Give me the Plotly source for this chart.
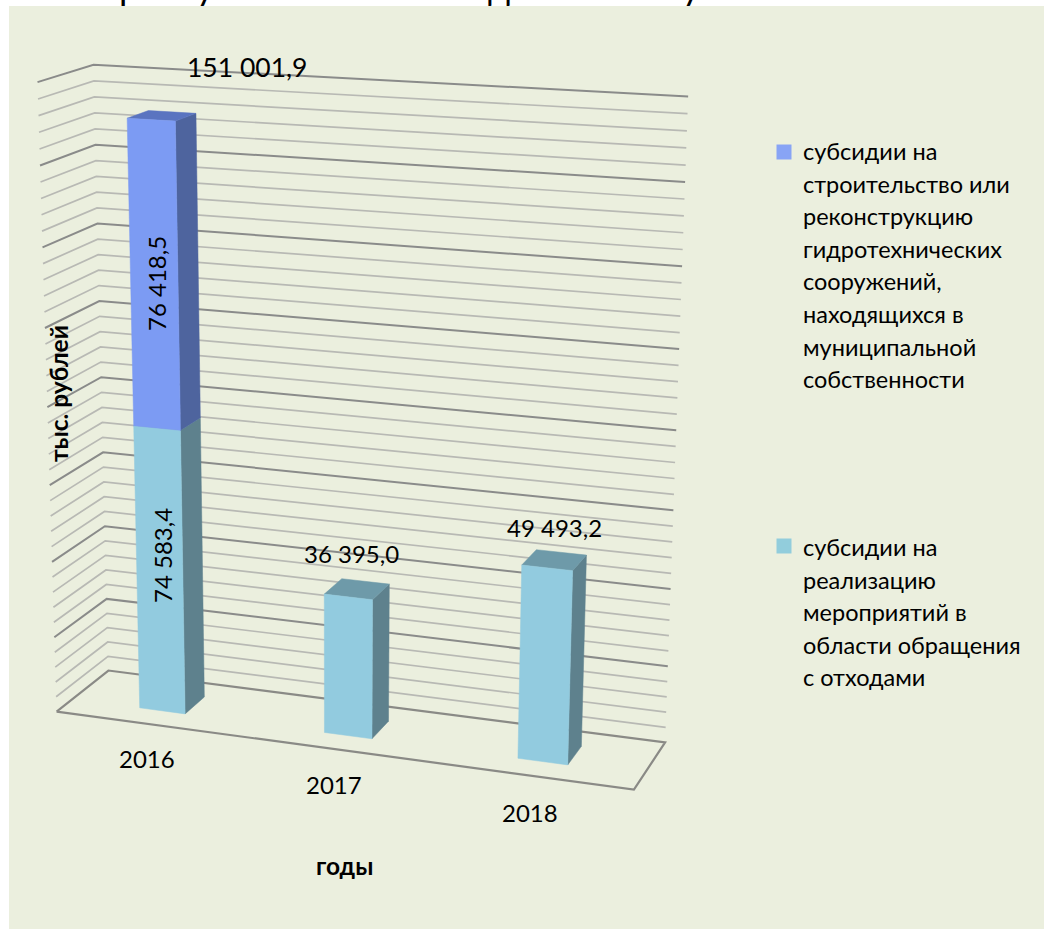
import numpy as np
import plotly.graph_objects as go

# ---------- data ----------
years = ["2016", "2017", "2018"]
waste_values = [74583.4, 36395.0, 49493.2]
hydro_values = [76418.5, 0.0, 0.0]
waste_labels = ["74 583,4", "36 395,0", "49 493,2"]
hydro_labels = ["76 418,5"]
total_label = "151 001,9"
axis_max = 160000
major_step = 20000
minor_step = 4000
axis_title_x = "годы"
axis_title_y = "тыс. рублей"
legend_hydro = ["субсидии на", "строительство или", "реконструкцию", "гидротехнических",
                "сооружений,", "находящихся в", "муниципальной", "собственности"]
legend_waste = ["субсидии на", "реализацию", "мероприятий в", "области обращения", "с отходами"]
clipped_heading = ["р", "у", "д", "у"]

W, H = 1044, 929
FONT = "Lato, Carlito, Calibri, sans-serif"
BG = "#EBEFDE"

# ---------- perspective camera: calibrated from the box corners (cat, value share, depth) -> pixel ----------
world = np.array([[0,0,0],[0,0,1],[3,0,1],[3,0,0],[0,1,1],[3,1,1],[0,1,0],[3,1,0]], float)
pixel = np.array([[56,711],[109,671],[666,743],[633,789],[94,65],[686,95],[37,82],[658,118]], float)
rows = []
for (X, Y, Z), (u, v) in zip(world, pixel):
    rows.append([X, Y, Z, 1, 0, 0, 0, 0, -u*X, -u*Y, -u*Z, -u])
    rows.append([0, 0, 0, 0, X, Y, Z, 1, -v*X, -v*Y, -v*Z, -v])
P = np.linalg.svd(np.array(rows))[2][-1].reshape(3, 4)

def proj(cat, val, depth):
    p = P @ np.array([cat, val / axis_max, depth, 1.0])
    return p[0] / p[2], p[1] / p[2]

def polyline(points):
    pts = [proj(*p) for p in points]
    return [q[0] for q in pts], [q[1] for q in pts]

fig = go.Figure()

def add_lines(segments, color, width):
    xs, ys = [], []
    for seg in segments:
        a, b = polyline(seg)
        xs += a + [None]
        ys += b + [None]
    fig.add_trace(go.Scatter(x=xs, y=ys, mode="lines", line=dict(color=color, width=width),
                             showlegend=False, hoverinfo="skip"))

n_cat = len(years)
levels = np.arange(0, axis_max + minor_step, minor_step)
minor = [[(0, v, 0), (0, v, 1), (n_cat, v, 1)] for v in levels if v % major_step != 0]
major = [[(0, v, 0), (0, v, 1), (n_cat, v, 1)] for v in levels if v % major_step == 0 and v > 0]
add_lines(minor, "#B8B9B4", 1.7)
add_lines(major, "#8A8B8A", 2)
add_lines([[(0, 0, 0), (0, 0, 1), (n_cat, 0, 1), (n_cat, 0, 0), (0, 0, 0)]], "#8A8A86", 2.2)

def add_face(points, color):
    x, y = polyline(points + points[:1])
    fig.add_trace(go.Scatter(x=x, y=y, mode="lines", fill="toself", fillcolor=color,
                             line=dict(color=color, width=0.5), showlegend=False, hoverinfo="skip"))

def add_box(cat, lo, hi, front, side, top):
    half = 0.125
    l, r = cat + 0.5 - half, cat + 0.5 + half
    zf, zb = 0.3, 0.7
    add_face([(r, lo, zf), (r, lo, zb), (r, hi, zb), (r, hi, zf)], side)
    add_face([(l, hi, zf), (r, hi, zf), (r, hi, zb), (l, hi, zb)], top)
    add_face([(l, lo, zf), (r, lo, zf), (r, hi, zf), (l, hi, zf)], front)

for i in range(n_cat):
    add_box(i, 0, waste_values[i], "#92CBDF", "#5E818D", "#6E9AA9")
    if hydro_values[i] > 0:
        add_box(i, waste_values[i], waste_values[i] + hydro_values[i], "#7C9BF3", "#4E649E", "#5A74C0")

# legend squares
fig.add_trace(go.Scatter(x=[784], y=[152], mode="markers", showlegend=False, hoverinfo="skip",
                         marker=dict(symbol="square", size=15, color="#88A4F5")))
fig.add_trace(go.Scatter(x=[784], y=[546], mode="markers", showlegend=False, hoverinfo="skip",
                         marker=dict(symbol="square", size=15, color="#92CDDC")))

def text(x, y, s, size=24, bold=False, angle=0, anchor="center"):
    fig.add_annotation(x=x, y=y, text=f"<b>{s}</b>" if bold else s, showarrow=False, xref="x", yref="y",
                       xanchor=anchor, yanchor="middle", textangle=angle,
                       font=dict(family=FONT, size=size, color="#000000"))

text(247, 67, total_label, size=26.5)
text(351, 553, waste_labels[1])
text(554, 527, waste_labels[2])
text(156, 284, hydro_labels[0], angle=-90)
text(162, 556, waste_labels[0], angle=-90)
text(147, 758, years[0])
text(334, 784, years[1])
text(530, 812, years[2])
text(344, 865, axis_title_x, size=24.5, bold=True)
text(58, 394, axis_title_y, size=24.5, bold=True, angle=-90)

for i, line in enumerate(legend_hydro):
    text(801, 151 + i * 32.6, line, size=23.5, anchor="left")
for i, line in enumerate(legend_waste):
    text(801, 547 + i * 32.6, line, size=23.5, anchor="left")

# heading line above the panel: only the descenders of these letters fall inside the page
for ch, x in zip(clipped_heading, [129, 205, 499, 691]):
    fig.add_annotation(x=x / W, y=1 + 14 / H, xref="paper", yref="paper", text=ch, showarrow=False,
                       xanchor="center", yanchor="middle", font=dict(family=FONT, size=36, color="#000000"))

fig.update_layout(
    width=W, height=H, margin=dict(l=0, r=0, t=0, b=0),
    paper_bgcolor="white", plot_bgcolor="white", showlegend=False,
    xaxis=dict(range=[0, W], visible=False, fixedrange=True),
    yaxis=dict(range=[H, 0], visible=False, fixedrange=True),
    shapes=[dict(type="rect", xref="x", yref="y", x0=9, x1=W, y0=6, y1=H,
                 fillcolor=BG, line=dict(width=0), layer="below")],
)
fig.write_html("out.html", post_script="document.body.style.margin='0';document.body.style.overflow='hidden';",
               config={"displayModeBar": False})
